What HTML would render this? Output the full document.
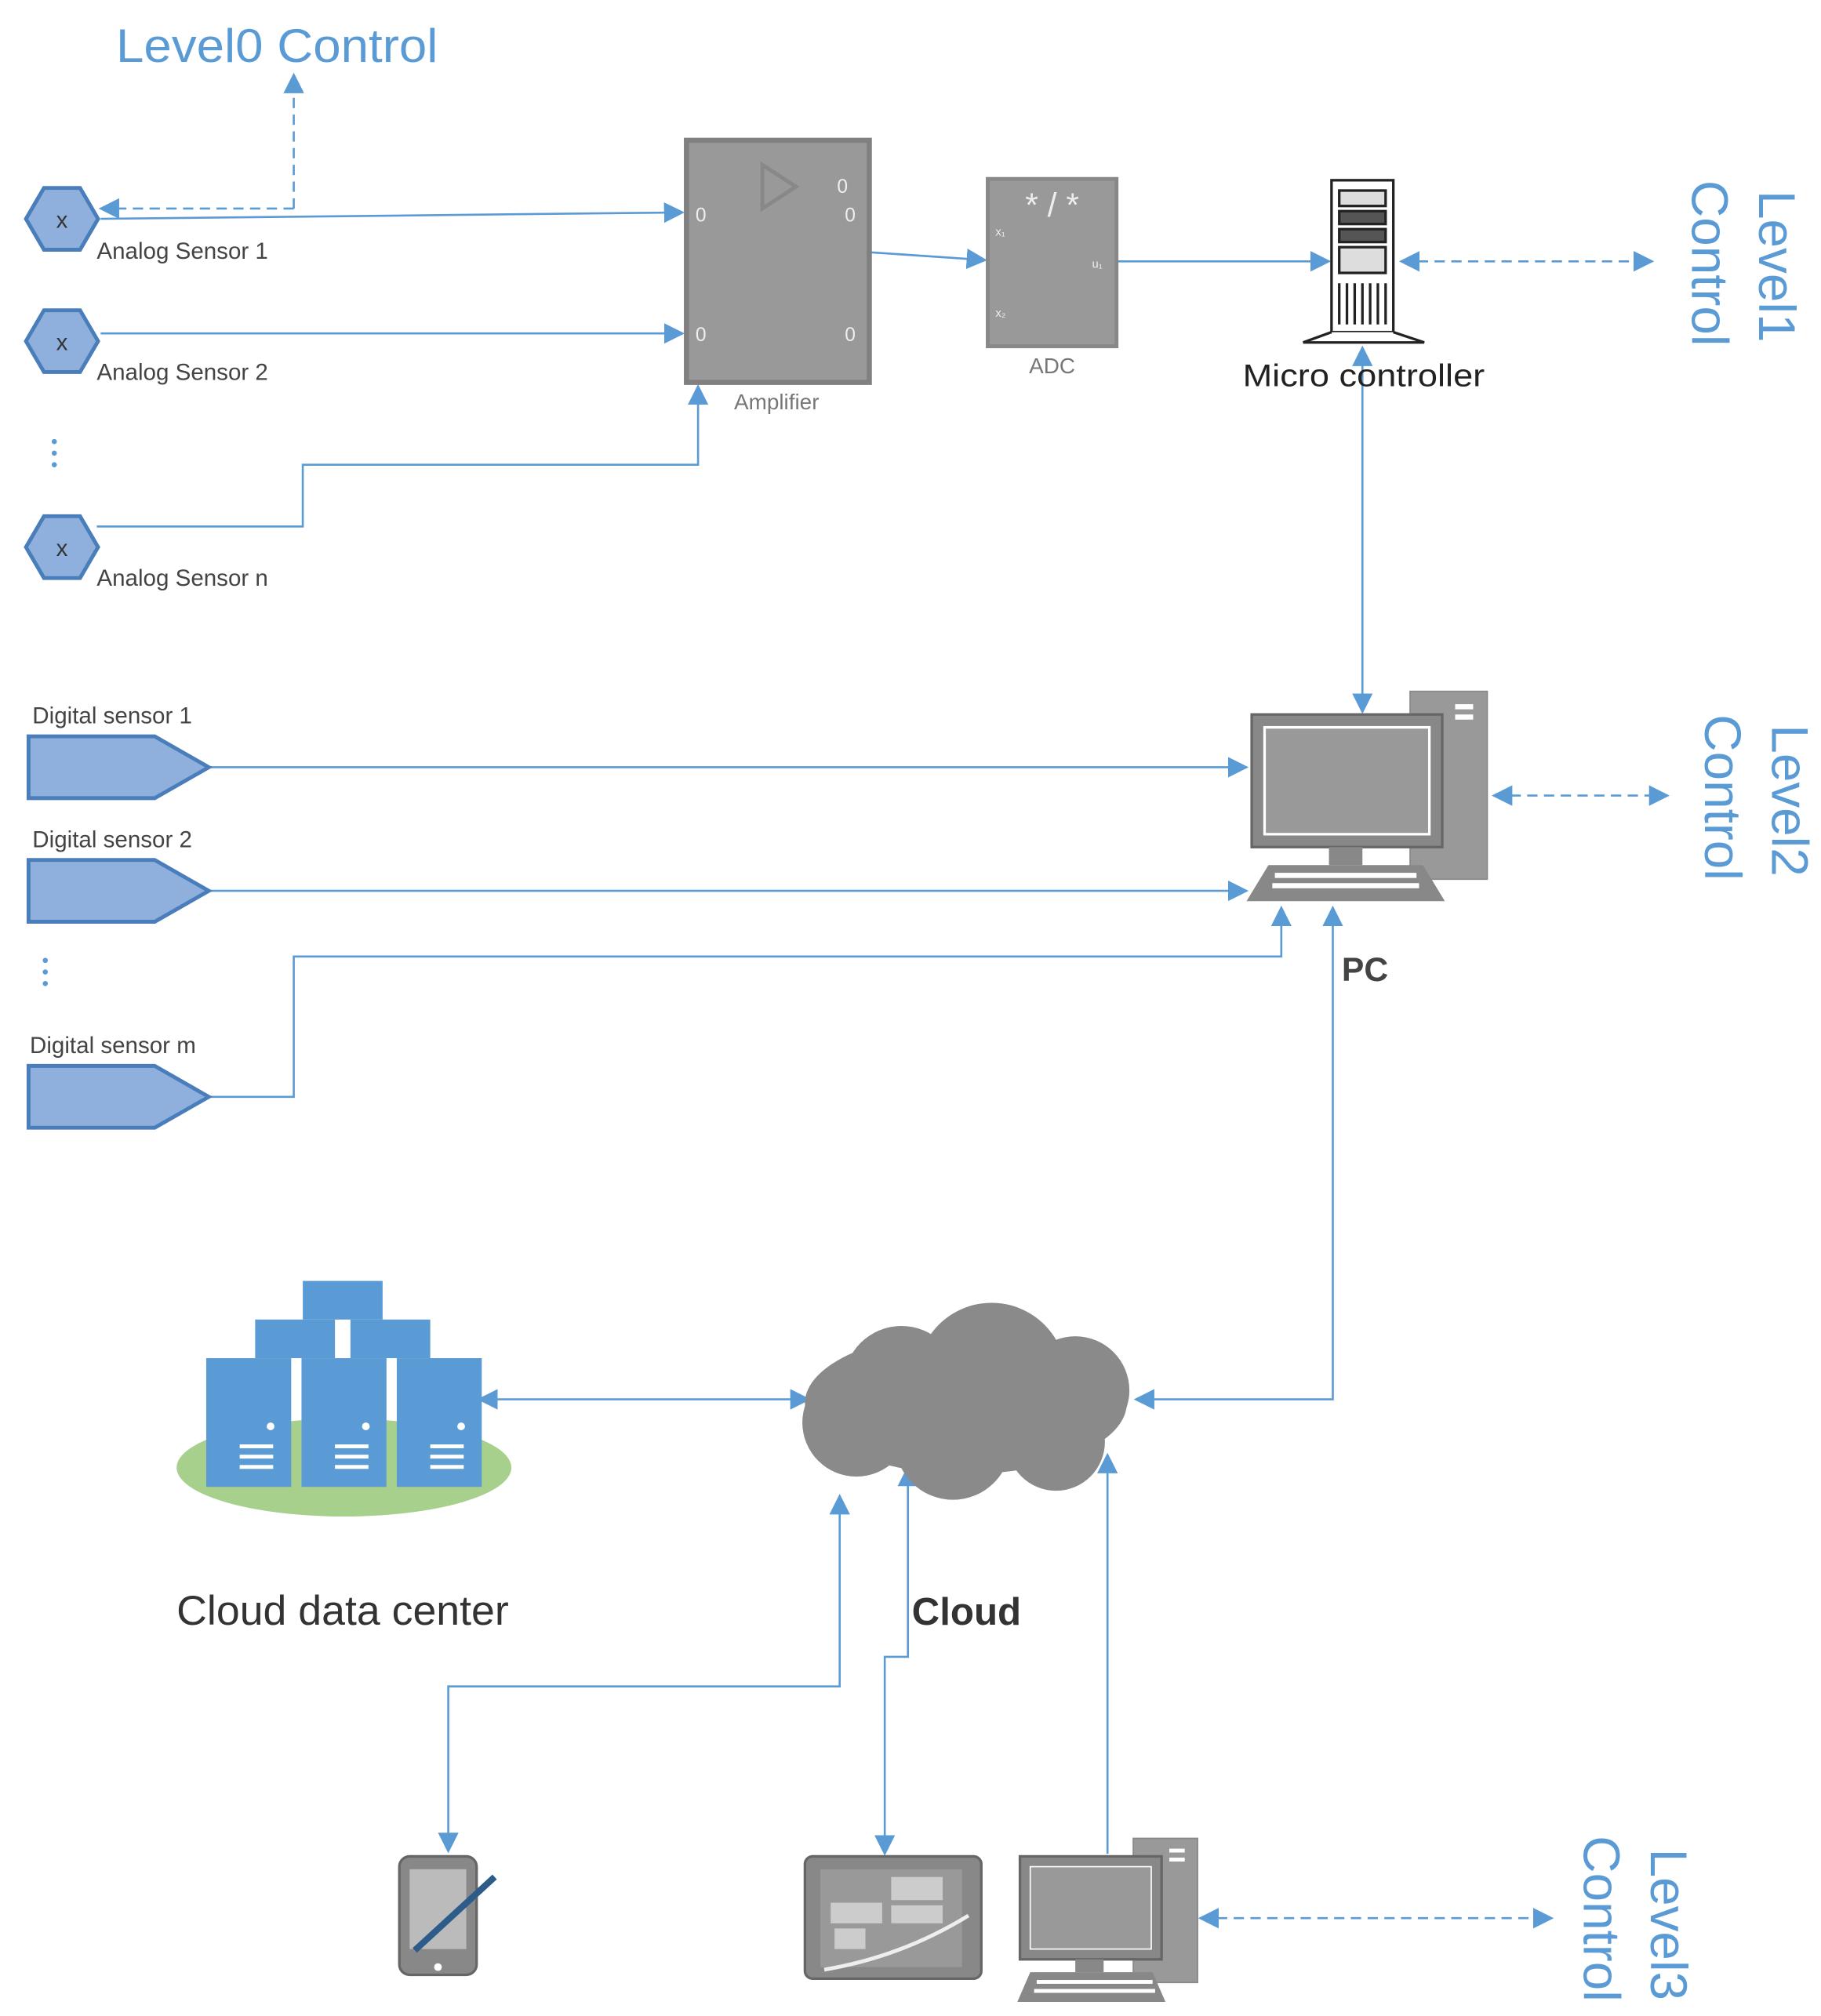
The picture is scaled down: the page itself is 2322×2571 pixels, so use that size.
<!DOCTYPE html>
<html><head><meta charset="utf-8"><style>
html,body{margin:0;padding:0;background:#fff;}
svg{display:block;}
text{font-family:"Liberation Sans",sans-serif;}
</style></head><body>
<svg width="2322" height="2571" viewBox="0 0 1414 1566" xmlns="http://www.w3.org/2000/svg">
<defs>
<marker id="b" viewBox="0 0 10 10" refX="9" refY="5" markerWidth="16" markerHeight="16" orient="auto-start-reverse" markerUnits="userSpaceOnUse"><path d="M0,0 L10,5 L0,10z" fill="#5b9bd5"/></marker>
</defs>
<g stroke="#5b9bd5" stroke-width="1.6" fill="none">
<path d="M228,162 V58" stroke-dasharray="8,5" marker-end="url(#b)"/>
<path d="M228,162 H78" stroke-dasharray="8,5" marker-end="url(#b)"/>
<path d="M78,170 L530,165" marker-end="url(#b)"/>
<path d="M78,259 H530" marker-end="url(#b)"/>
<path d="M75,409 H235 V361 H542 V300" marker-end="url(#b)"/>
<path d="M676,196 L765,202" marker-end="url(#b)"/>
<path d="M868,203 H1032" marker-end="url(#b)"/>
<path d="M1088,203 H1283" stroke-dasharray="8,5" marker-start="url(#b)" marker-end="url(#b)"/>
<path d="M1058,270 V553" marker-start="url(#b)" marker-end="url(#b)"/>
<path d="M162,596 H968" marker-end="url(#b)"/>
<path d="M162,692 H968" marker-end="url(#b)"/>
<path d="M162,852 H228 V743 H995 V705" marker-end="url(#b)"/>
<path d="M1160,618 H1295" stroke-dasharray="8,5" marker-start="url(#b)" marker-end="url(#b)"/>
<path d="M1035,705 V1087 H882" marker-start="url(#b)" marker-end="url(#b)"/>
<path d="M372,1087 H628" marker-start="url(#b)" marker-end="url(#b)"/>
<path d="M652,1162 V1310 H348 V1438" marker-start="url(#b)" marker-end="url(#b)"/>
<path d="M705,1140 V1287 H687 V1440" marker-start="url(#b)" marker-end="url(#b)"/>
<path d="M860,1130 V1440" marker-start="url(#b)"/>
<path d="M932,1490 H1205" stroke-dasharray="8,5" marker-start="url(#b)" marker-end="url(#b)"/>
</g>
<g fill="#5b9bd5"><circle cx="42" cy="343" r="2"/><circle cx="42" cy="352" r="2"/><circle cx="42" cy="361" r="2"/>
<circle cx="35" cy="746" r="2"/><circle cx="35" cy="755" r="2"/><circle cx="35" cy="764" r="2"/></g>
<text x="90" y="48" font-size="37" fill="#5b9bd5" textLength="250" lengthAdjust="spacingAndGlyphs">Level0 Control</text>
<g fill="#8fb0dc" stroke="#4a7ebb" stroke-width="3">
<polygon points="20,170 34,146 62,146 76,170 62,194 34,194"/>
<polygon points="20,265 34,241 62,241 76,265 62,289 34,289"/>
<polygon points="20,425 34,401 62,401 76,425 62,449 34,449"/>
</g>
<g font-size="18" fill="#333" text-anchor="middle"><text x="48" y="177">x</text><text x="48" y="272">x</text><text x="48" y="432">x</text></g>
<g font-size="18" fill="#444"><text x="75" y="201">Analog Sensor 1</text><text x="75" y="295">Analog Sensor 2</text><text x="75" y="455">Analog Sensor n</text></g>
<rect x="533" y="109" width="142" height="188" fill="#999" stroke="#808080" stroke-width="4"/>
<polygon points="592,128 618,145 592,162" fill="none" stroke="#888" stroke-width="3"/>
<g font-size="15" fill="#eee"><text x="540" y="172">0</text><text x="540" y="265">0</text><text x="650" y="150">0</text><text x="656" y="172">0</text><text x="656" y="265">0</text></g>
<text x="603" y="318" font-size="17" fill="#777" text-anchor="middle">Amplifier</text>
<rect x="767" y="139" width="100" height="130" fill="#999" stroke="#888" stroke-width="3"/>
<text x="817" y="168" font-size="26" fill="#eee" text-anchor="middle">* / *</text>
<g font-size="9" fill="#eee"><text x="773" y="183">x₁</text><text x="773" y="246">x₂</text><text x="848" y="208">u₁</text></g>
<text x="817" y="290" font-size="17" fill="#777" text-anchor="middle">ADC</text>
<g stroke="#222" stroke-width="2" fill="#fff">
<rect x="1034" y="140" width="48" height="118"/>
<rect x="1040" y="148" width="36" height="12" fill="#ddd"/>
<rect x="1040" y="164" width="36" height="10" fill="#555"/>
<rect x="1040" y="178" width="36" height="10" fill="#555"/>
<rect x="1040" y="192" width="36" height="20" fill="#ddd"/>
<path d="M1040,220 V252 M1046,220 V252 M1052,220 V252 M1058,220 V252 M1064,220 V252 M1070,220 V252 M1076,220 V252"/>
<path d="M1034,258 L1012,266 H1106 L1082,258"/>
</g>
<text x="965" y="300" font-size="24" fill="#222" textLength="188" lengthAdjust="spacingAndGlyphs">Micro controller</text>
<g>
<rect x="1095" y="537" width="60" height="146" fill="#999" stroke="#888"/>
<rect x="1130" y="547" width="14" height="4" fill="#fff"/><rect x="1130" y="555" width="14" height="4" fill="#fff"/>
<rect x="972" y="555" width="148" height="103" fill="#888" stroke="#666" stroke-width="2"/>
<rect x="982" y="565" width="128" height="83" fill="#999" stroke="#fff" stroke-width="2"/>
<rect x="1032" y="658" width="26" height="14" fill="#888"/>
<polygon points="985,672 1105,672 1122,700 968,700" fill="#888"/>
<g fill="#fff"><rect x="990" y="678" width="110" height="4"/><rect x="988" y="686" width="114" height="4"/></g>
</g>
<text x="1060" y="762" font-size="26" font-weight="bold" fill="#444" text-anchor="middle">PC</text>
<g fill="#8fb0dc" stroke="#4a7ebb" stroke-width="3">
<polygon points="22,572 120,572 162,596 120,620 22,620"/>
<polygon points="22,668 120,668 162,692 120,716 22,716"/>
<polygon points="22,828 120,828 162,852 120,876 22,876"/>
</g>
<g font-size="18" fill="#444"><text x="25" y="562">Digital sensor 1</text><text x="25" y="658">Digital sensor 2</text><text x="23" y="818">Digital sensor m</text></g>
<g font-size="40" fill="#5b9bd5">
<text transform="translate(1366,148) rotate(90)">Level1</text>
<text transform="translate(1314,140) rotate(90)">Control</text>
<text transform="translate(1376,563) rotate(90)">Level2</text>
<text transform="translate(1324,555) rotate(90)">Control</text>
<text transform="translate(1282,1436) rotate(90)">Level3</text>
<text transform="translate(1230,1426) rotate(90)">Control</text>
</g>
<g fill="#8a8a8a">
<ellipse cx="750" cy="1090" rx="125" ry="55"/>
<circle cx="770" cy="1070" r="58"/><circle cx="700" cy="1075" r="45"/><circle cx="835" cy="1080" r="42"/>
<circle cx="665" cy="1105" r="42"/><circle cx="740" cy="1120" r="45"/><circle cx="820" cy="1120" r="38"/>
</g>
<text x="708" y="1262" font-size="30" font-weight="bold" fill="#333">Cloud</text>
<ellipse cx="267" cy="1140" rx="130" ry="38" fill="#a8d08d"/>
<g fill="#5b9bd5">
<rect x="235" y="995" width="62" height="30"/>
<rect x="198" y="1025" width="62" height="30"/><rect x="272" y="1025" width="62" height="30"/>
<rect x="160" y="1055" width="66" height="100"/><rect x="234" y="1055" width="66" height="100"/><rect x="308" y="1055" width="66" height="100"/>
</g>
<g fill="#fff">
<rect x="186" y="1122" width="26" height="3"/><rect x="186" y="1130" width="26" height="3"/><rect x="186" y="1138" width="26" height="3"/>
<rect x="260" y="1122" width="26" height="3"/><rect x="260" y="1130" width="26" height="3"/><rect x="260" y="1138" width="26" height="3"/>
<rect x="334" y="1122" width="26" height="3"/><rect x="334" y="1130" width="26" height="3"/><rect x="334" y="1138" width="26" height="3"/>
<circle cx="210" cy="1108" r="3"/><circle cx="284" cy="1108" r="3"/><circle cx="358" cy="1108" r="3"/>
</g>
<text x="137" y="1262" font-size="32" fill="#333" textLength="258" lengthAdjust="spacingAndGlyphs">Cloud data center</text>
<rect x="310" y="1442" width="60" height="92" rx="8" fill="#888" stroke="#666" stroke-width="2"/>
<rect x="318" y="1452" width="44" height="62" fill="#bbb"/>
<path d="M322,1515 L384,1458" stroke="#2e5c8a" stroke-width="5"/>
<circle cx="340" cy="1528" r="3" fill="#fff"/>
<rect x="625" y="1442" width="137" height="95" rx="6" fill="#888" stroke="#666" stroke-width="2"/>
<rect x="637" y="1452" width="110" height="76" fill="#999"/>
<g fill="#ccc"><rect x="692" y="1458" width="40" height="18"/><rect x="645" y="1478" width="40" height="16"/><rect x="692" y="1480" width="40" height="14"/><rect x="648" y="1498" width="24" height="16"/></g>
<path d="M640,1530 Q700,1520 752,1488" stroke="#eee" stroke-width="3" fill="none"/>
<rect x="880" y="1428" width="50" height="112" fill="#999" stroke="#888"/>
<rect x="908" y="1436" width="12" height="3" fill="#fff"/><rect x="908" y="1443" width="12" height="3" fill="#fff"/>
<rect x="792" y="1442" width="110" height="80" fill="#888" stroke="#666" stroke-width="2"/>
<rect x="800" y="1450" width="94" height="64" fill="#999" stroke="#fff"/>
<rect x="835" y="1522" width="22" height="10" fill="#888"/>
<polygon points="800,1532 895,1532 905,1555 790,1555" fill="#888"/>
<rect x="805" y="1538" width="90" height="3" fill="#fff"/><rect x="803" y="1545" width="94" height="3" fill="#fff"/>
</svg>
</body></html>
